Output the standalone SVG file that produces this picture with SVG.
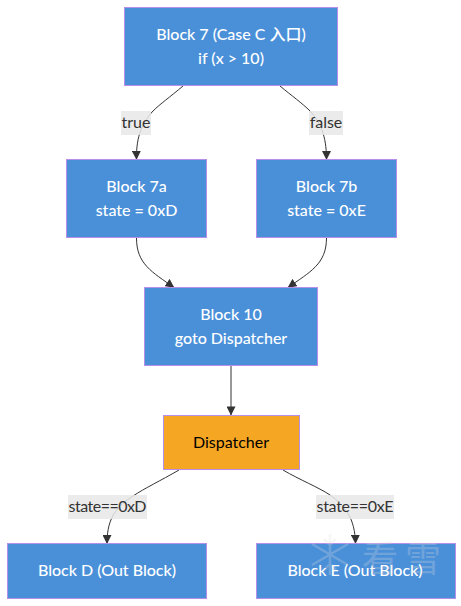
<svg xmlns="http://www.w3.org/2000/svg" width="461" height="606" viewBox="0 0 461 606">
<defs>
<marker id="arrow" viewBox="0 0 10 10" refX="9.500" refY="5" markerWidth="9" markerHeight="9" markerUnits="userSpaceOnUse" orient="auto"><path d="M0 0L10 5L0 10z" fill="#333"/></marker>
</defs>
<style>
.n{fill:#4a90d9;stroke:#b78ee8;stroke-width:1}
.o{fill:#f5a623;stroke:#b78ee8;stroke-width:1}
text{font-family:"Lato","Noto Sans CJK SC",sans-serif;font-size:16px;text-anchor:middle}
.w{fill:#fff;font-weight:500}
.k{fill:#000}
.l{fill:#333}
.e{fill:none;stroke:#333;stroke-width:1;marker-end:url(#arrow)}
.b{fill:#e8e8e8;opacity:.85}
</style>
<rect width="461" height="606" fill="#fff"/>
<g id="connectors">
<path class="e" d="M183 86C170 97 160 104 153 111C143 122 136 135 136.500 159.500"/>
<path class="e" d="M280 86C292 96 302 103 310 111C320 122 326.500 135 326.500 159.500"/>
<path class="e" d="M136.500 238C136.500 264 152 272 174 287.500"/>
<path class="e" d="M326.500 238C326.500 264 310 272 288 287.500"/>
<path class="e" d="M231 366V415"/>
<path class="e" d="M179 470C160 481 145 488 133 496C118 506 107 516 107 543.500"/>
<path class="e" d="M283 470C300 480 318 487 330 495C345 506 355 518 355.500 543.500"/>
</g>
<g id="label-true"><rect class="b" x="121" y="111" width="30" height="24"/><text class="l" x="136" y="128">true</text></g>
<g id="label-false"><rect class="b" x="309" y="111" width="34" height="24"/><text class="l" x="326" y="128">false</text></g>
<g id="label-d"><rect class="b" x="68" y="495" width="79" height="24"/><text class="l" x="107.500" y="512" textLength="78">state==0xD</text></g>
<g id="label-e"><rect class="b" x="316" y="495" width="78" height="24"/><text class="l" x="355" y="512" textLength="77">state==0xE</text></g>
<g id="block7"><rect class="n" x="124.500" y="7.500" width="213" height="78"/><text class="w" x="231" y="40">Block 7 (Case C 入口)</text><text class="w" x="231" y="64">if (x &gt; 10)</text></g>
<g id="block7a"><rect class="n" x="66.500" y="159.500" width="140" height="78"/><text class="w" x="136.500" y="192">Block 7a</text><text class="w" x="136.500" y="216">state = 0xD</text></g>
<g id="block7b"><rect class="n" x="256.500" y="159.500" width="140" height="78"/><text class="w" x="326.500" y="192">Block 7b</text><text class="w" x="326.500" y="216">state = 0xE</text></g>
<g id="block10"><rect class="n" x="144.500" y="287.500" width="173" height="78"/><text class="w" x="231" y="320">Block 10</text><text class="w" x="231" y="344">goto Dispatcher</text></g>
<g id="dispatcher"><rect class="o" x="163.500" y="415.500" width="136" height="54"/><text class="k" x="231" y="448">Dispatcher</text></g>
<g id="blockD"><rect class="n" x="7.500" y="543.500" width="199" height="55"/><text class="w" x="107" y="576">Block D (Out Block)</text></g>
<g id="blockE"><rect class="n" x="256.500" y="543.500" width="199" height="55"/><text class="w" x="355" y="576">Block E (Out Block)</text></g>
<g id="watermark" opacity=".25">
<path d="M330 534V575M312 544L348 565M348 544L312 565M330 545L324 539M330 545L336 539M330 564L324 570M330 564L336 570" fill="none" stroke="#ddd" stroke-width="2.500"/>
<text x="380" y="572" style="font-size:36px;fill:#ddd">看</text><text x="423" y="572" style="font-size:36px;fill:#ddd">雪</text>
</g>
</svg>
